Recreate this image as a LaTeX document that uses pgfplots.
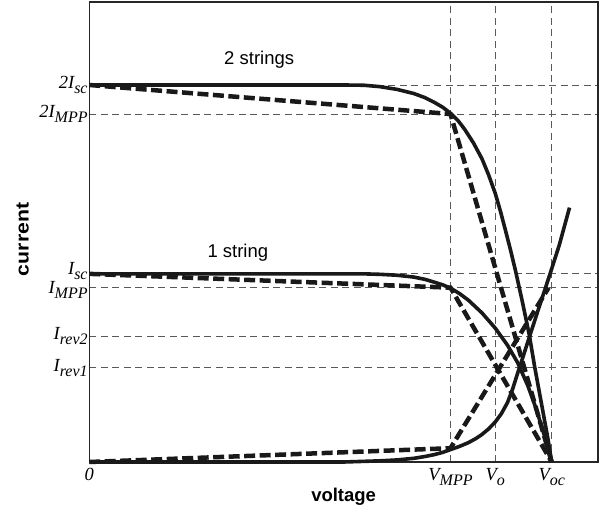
\documentclass[border=0pt]{standalone}
\usepackage{fontspec}
\setmainfont{Liberation Sans}
\newfontfamily\tfont{Liberation Serif}
\usepackage{pgfplots}
\pgfplotsset{compat=1.18}

% italic serif label with a lowered subscript
\newcommand{\tl}[2]{\mbox{\tfont\itshape\fontsize{18.5bp}{20bp}\selectfont #1\raisebox{-5bp}{\fontsize{16bp}{17bp}\selectfont #2}}}

\begin{document}
\begin{tikzpicture}
\useasboundingbox (-89.3bp,-54bp) rectangle (512.7bp,462bp);
\begin{axis}[
  at={(0,0)}, anchor=south west,
  width=508.7bp, height=460bp, scale only axis,
  xmin=0, xmax=100, ymin=0, ymax=100,
  clip=false,
  axis line style={draw=black!85, line width=1.1bp},
  xtick={0,71.0,79.8,90.9},
  xticklabels={\mbox{\tfont\itshape\fontsize{18.5bp}{20bp}\selectfont 0}, \tl{V}{MPP}, \tl{V}{o}, \tl{V}{oc}},
  ytick={20.5,27.4,37.9,40.9,75.65,81.96},
  % invisible struts nudge the close I_sc / I_MPP labels apart
  yticklabels={\tl{I}{rev1}, \tl{I}{rev2}, \tl{I}{MPP}\rule{0pt}{17bp}, \tl{I}{sc}\rule[-11bp]{0pt}{0pt}, \tl{2I}{MPP}, \tl{2I}{sc}},
  major tick length=0pt,
  grid=major,
  major grid style={draw=black!65, line width=0.85bp, dash pattern=on 7bp off 4.5bp},
  xticklabel style={yshift=-3bp},
  yticklabel style={xshift=1bp, inner sep=2.5bp},
  xlabel={voltage},
  ylabel={\scalebox{1.15}[1]{current}},
  label style={font=\bfseries\fontsize{18.5bp}{21bp}\selectfont},
  xlabel style={at={(axis description cs:0.5,-0.075)}, anchor=center},
  ylabel style={at={(axis description cs:-0.131,0.484)}, anchor=center},
  dashcurve/.style={black!90, line width=4.5bp, dash pattern=on 11bp off 4.5bp},
  solidcurve/.style={black!90, line width=3.6bp},
]
% linear approximations
\addplot[dashcurve] coordinates {(0,81.96) (71.0,75.65) (90.9,0)};
\addplot[dashcurve] coordinates {(0,40.9) (71.0,37.9) (90.9,0)};
\addplot[dashcurve] coordinates {(0,0) (71.0,3.0) (90.3,37.9)};

% 2 strings
\addplot[solidcurve] coordinates {
  (0,81.96) (50,81.96) (54,81.9) (57.1,81.6) (60.5,81.0) (63.8,80.1) (66,79.2)
  (67.8,78.2) (69.5,77.1) (71.0,75.8) (72.5,74.2) (73.8,72.3) (75.5,69.4)
  (77.2,65.9) (78.5,62.4) (79.8,58.4) (80.8,54.6) (81.8,50.4) (82.8,46.1)
  (83.8,41.5) (85.1,35.0) (86.5,27.6) (87.5,21.0) (88.4,15.6) (89.2,10.8)
  (90.1,5.4) (90.9,0)};
% 1 string
\addplot[solidcurve] coordinates {
  (0,40.9) (54,40.9) (57.1,40.8) (60.5,40.6) (63.8,40.2) (66,39.7) (67.8,39.1)
  (69.5,38.5) (71.0,37.8) (72.8,36.6) (74.5,35.2) (77.2,32.4) (79.8,29.1)
  (82.2,25.4) (84.2,21.6) (86.2,16.6) (87.9,11.4) (89.5,5.6) (90.9,0)};
% reverse current
\addplot[solidcurve] coordinates {
  (0,0) (50,0) (57.1,0.25) (60.5,0.45) (63.8,0.8) (66,1.2) (67.8,1.6) (69.5,2.1)
  (71.0,2.7) (72.8,3.4) (74.5,4.2) (76,5.1) (77.2,6.0) (78.5,7.2) (79.8,8.7)
  (81,10.5) (82.2,12.9) (83.2,15.8) (84.2,19.3) (85.3,23.0) (86.4,26.8)
  (88.4,33.6) (90.4,40.3) (92.4,47.2) (94.4,55.3)};

\node[font=\fontsize{18.5bp}{21bp}\selectfont] at (axis cs:33.4,87.5) {2 strings};
\node[font=\fontsize{18.5bp}{21bp}\selectfont] at (axis cs:29.2,45.4) {1 string};
\end{axis}
\end{tikzpicture}
\end{document}
